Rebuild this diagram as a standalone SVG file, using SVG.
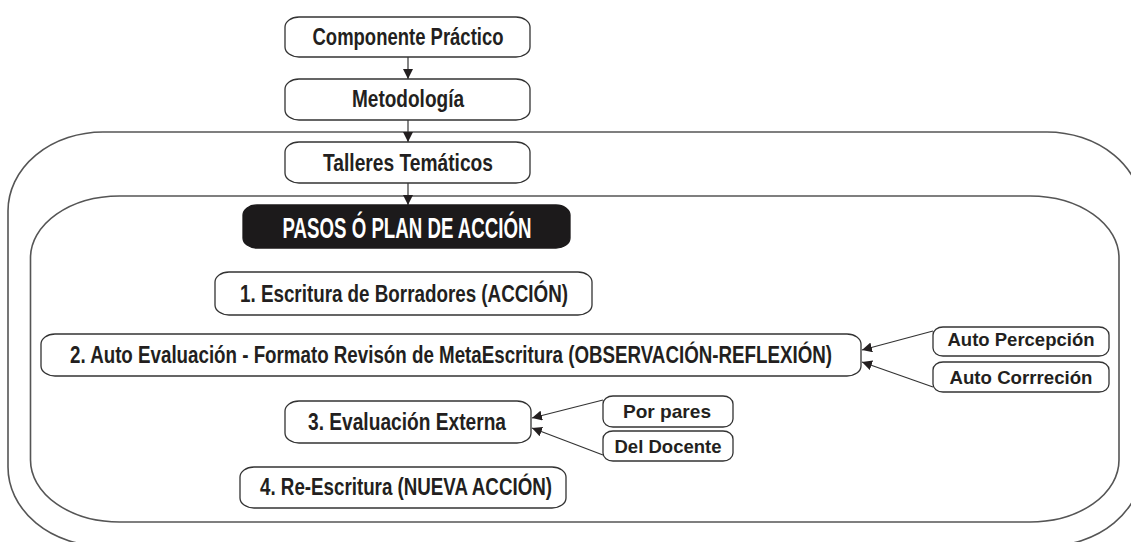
<svg xmlns="http://www.w3.org/2000/svg" width="1131" height="542" viewBox="0 0 1131 542">
<style>
  .frame { fill: none; stroke: #555; stroke-width: 1.6; }
  .box { fill: #fff; stroke: #333; stroke-width: 1.3; }
  .dark { fill: #1c1a1b; stroke: #1c1a1b; stroke-width: 1.3; }
  .t { font-family: "Liberation Sans", Arial, sans-serif; font-weight: bold; fill: #231f20; text-anchor: middle; font-size: 24px; }
  .tw { fill: #fff; font-size: 30px; }
  .ts { font-size: 19px; }
  .conn { stroke: #333; stroke-width: 1.2; fill: none; }
</style>
<defs>
  <marker id="ah" viewBox="0 0 10 10" refX="10" refY="5" markerWidth="10" markerHeight="10" markerUnits="userSpaceOnUse" orient="auto">
    <path d="M0,0 L10,5 L0,10 z" fill="#231f20"/>
  </marker>
</defs>

<g id="frames">
  <rect id="outer-frame" class="frame" x="8" y="132" width="1134" height="414" rx="95" ry="79"/>
  <rect id="inner-frame" class="frame" x="30.5" y="196" width="1088.5" height="326" rx="89" ry="62"/>
</g>

<g id="connectors">
  <line class="conn" x1="408" y1="57" x2="408" y2="79" marker-end="url(#ah)"/>
  <line class="conn" x1="408" y1="120" x2="408" y2="142" marker-end="url(#ah)"/>
  <line class="conn" x1="408" y1="183" x2="408" y2="205" marker-end="url(#ah)"/>
  <line class="conn" x1="933" y1="331" x2="862" y2="350" marker-end="url(#ah)"/>
  <line class="conn" x1="933" y1="387" x2="862" y2="362" marker-end="url(#ah)"/>
  <line class="conn" x1="603" y1="400" x2="532" y2="418" marker-end="url(#ah)"/>
  <line class="conn" x1="603" y1="455" x2="532" y2="428" marker-end="url(#ah)"/>
</g>

<g id="n-componente">
  <rect class="box" x="285" y="17" width="245" height="40" rx="14" ry="10"/>
  <text class="t" x="408" y="45" textLength="191" lengthAdjust="spacingAndGlyphs">Componente Práctico</text>
</g>
<g id="n-metodologia">
  <rect class="box" x="285" y="79" width="245" height="41" rx="14" ry="10"/>
  <text class="t" x="408" y="107" textLength="112" lengthAdjust="spacingAndGlyphs">Metodología</text>
</g>
<g id="n-talleres">
  <rect class="box" x="285" y="142" width="245" height="41" rx="14" ry="10"/>
  <text class="t" x="408" y="171" textLength="170" lengthAdjust="spacingAndGlyphs">Talleres Temáticos</text>
</g>
<g id="n-pasos">
  <rect class="dark" x="243" y="205" width="327" height="43" rx="14" ry="10"/>
  <text class="t tw" x="407" y="238" textLength="249" lengthAdjust="spacingAndGlyphs">PASOS Ó PLAN DE ACCIÓN</text>
</g>
<g id="n-paso1">
  <rect class="box" x="215" y="272" width="377" height="43" rx="14" ry="10"/>
  <text class="t" x="404" y="302" textLength="328" lengthAdjust="spacingAndGlyphs">1. Escritura de Borradores (ACCIÓN)</text>
</g>
<g id="n-paso2">
  <rect class="box" x="41" y="334" width="820" height="42" rx="14" ry="10"/>
  <text class="t" x="451" y="363" textLength="762" lengthAdjust="spacingAndGlyphs">2. Auto Evaluación - Formato Revisón de MetaEscritura (OBSERVACIÓN-REFLEXIÓN)</text>
</g>
<g id="n-autopercepcion">
  <rect class="box" x="933" y="327" width="176" height="29" rx="10" ry="8"/>
  <text class="t ts" x="1021" y="346" textLength="147" lengthAdjust="spacingAndGlyphs">Auto Percepción</text>
</g>
<g id="n-autocorrecion">
  <rect class="box" x="933" y="362" width="176" height="30" rx="10" ry="8"/>
  <text class="t ts" x="1021" y="384" textLength="143" lengthAdjust="spacingAndGlyphs">Auto Corrreción</text>
</g>
<g id="n-paso3">
  <rect class="box" x="285" y="401" width="246" height="42" rx="14" ry="10"/>
  <text class="t" x="407" y="430" textLength="198" lengthAdjust="spacingAndGlyphs">3. Evaluación Externa</text>
</g>
<g id="n-porpares">
  <rect class="box" x="603" y="396" width="130" height="31" rx="10" ry="8"/>
  <text class="t ts" x="667" y="418" textLength="88" lengthAdjust="spacingAndGlyphs">Por pares</text>
</g>
<g id="n-docente">
  <rect class="box" x="603" y="431" width="130" height="30" rx="10" ry="8"/>
  <text class="t ts" x="668" y="453" textLength="107" lengthAdjust="spacingAndGlyphs">Del Docente</text>
</g>
<g id="n-paso4">
  <rect class="box" x="240" y="467" width="326" height="41" rx="14" ry="10"/>
  <text class="t" x="406" y="495" textLength="292" lengthAdjust="spacingAndGlyphs">4. Re-Escritura (NUEVA ACCIÓN)</text>
</g>
</svg>
